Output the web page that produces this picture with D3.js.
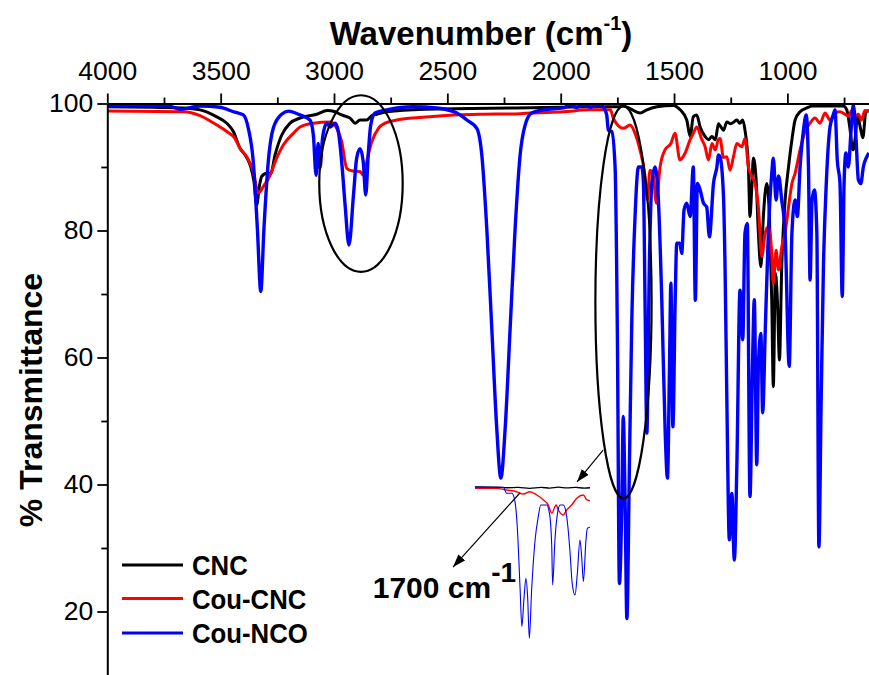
<!DOCTYPE html>
<html>
<head>
<meta charset="utf-8">
<script src="https://cdn.jsdelivr.net/npm/d3@7"></script>
<style>
  html, body { margin: 0; padding: 0; background: #fff; }
  svg { display: block; font-family: "Liberation Sans", Arial, sans-serif; }
</style>
</head>
<body>
<svg id="chart" width="869" height="675"></svg>
<script>
// ---- axis ticks ----
const majorTicksX = [4000, 3500, 3000, 2500, 2000, 1500, 1000];
const minorTicksX = [3750, 3250, 2750, 2250, 1750, 1250, 750];
const majorTicksY = [20, 40, 60, 80, 100];
const minorTicksY = [30, 50, 70, 90];

// ---- series: [wavenumber (cm-1), % transmittance] ----
const seriesNames = ["CNC", "Cou-CNC", "Cou-NCO"];

const cnc = [
  [4000,99.5],[3800,99.4],[3665,99.3],[3591,99.0],[3517,97.9],[3473,96.9],[3444,95.6],[3414,92.9],
  [3392,91.9],[3370,90.3],[3353,87.7],[3341,84.0],[3329,87.0],[3319,88.5],[3297,89.0],[3279,89.0],
  [3260,91.9],[3231,95.0],[3194,96.9],[3150,97.7],[3076,98.3],[3030,98.9],[2995,98.7],[2972,98.3],
  [2950,98.0],[2929,97.7],[2907,96.9],[2885,97.4],[2856,97.4],[2833,98.1],[2811,98.3],[2767,98.7],
  [2600,99.1],[2400,99.2],[2200,99.3],[2000,99.4],[1872,99.5],[1750,99.5],[1724,99.6],[1694,99.2],
  [1650,98.5],[1620,99.0],[1576,99.5],[1503,99.7],[1473,99.0],[1444,97.4],[1429,94.8],[1415,97.9],
  [1400,98.2],[1385,96.3],[1363,94.8],[1348,94.3],[1333,94.8],[1318,94.3],[1304,96.8],[1297,96.5],
  [1282,95.8],[1267,97.1],[1250,96.8],[1236,97.1],[1223,97.4],[1210,96.9],[1197,97.4],[1187,95.8],
  [1172,90.0],[1165,82.2],[1158,86.0],[1150,91.4],[1138,88.0],[1128,79.6],[1117,74.3],[1106,82.2],
  [1091,87.4],[1079,82.0],[1069,69.0],[1062,55.4],[1053,73.3],[1044,69.0],[1035,59.6],[1025,74.3],
  [1010,84.8],[995,90.0],[980,94.3],[966,97.4],[944,98.7],[914,99.3],[890,99.6],[753,99.6],
  [738,99.0],[725,96.3],[711,92.7],[700,94.8],[691,98.0],[676,95.8],[667,94.6],[654,98.7],[640,98.9]
];

const couCnc = [
  [4000,98.8],[3665,98.7],[3591,98.1],[3517,96.6],[3473,95.6],[3437,94.5],[3414,92.9],[3385,91.6],
  [3356,89.3],[3334,85.9],[3312,86.9],[3282,88.7],[3253,91.4],[3223,93.5],[3179,95.3],[3150,96.3],
  [3091,96.9],[3017,97.1],[2988,96.1],[2966,94.0],[2944,89.8],[2922,89.4],[2885,89.3],[2871,88.7],
  [2849,91.9],[2833,94.0],[2804,96.1],[2775,96.9],[2723,97.4],[2576,97.9],[2473,98.2],[2356,98.3],
  [2179,98.4],[2135,98.5],[1988,98.7],[1872,99.0],[1781,99.0],[1767,97.6],[1724,96.1],[1694,96.6],
  [1672,95.3],[1650,92.7],[1628,88.5],[1618,84.8],[1606,89.5],[1591,88.5],[1578,84.3],[1562,89.9],
  [1540,92.7],[1514,93.7],[1496,95.3],[1474,91.1],[1451,92.2],[1429,94.3],[1415,95.3],[1400,96.3],
  [1378,94.4],[1363,93.2],[1348,91.1],[1333,93.7],[1318,92.7],[1304,94.4],[1297,94.5],[1282,91.5],
  [1267,91.6],[1253,89.5],[1238,91.6],[1223,93.7],[1201,93.2],[1187,94.5],[1172,90.0],[1157,88.5],
  [1143,87.4],[1128,83.7],[1113,75.9],[1098,79.6],[1084,80.6],[1069,76.4],[1062,71.7],[1050,76.9],
  [1039,73.8],[1025,77.4],[1010,79.6],[995,83.7],[980,87.4],[966,89.0],[944,92.7],[922,95.6],
  [900,96.9],[878,97.7],[856,96.9],[834,98.5],[812,97.4],[790,98.5],[768,98.7],[746,98.3],
  [731,98.0],[716,98.9],[698,98.0],[687,98.3],[673,97.4],[658,98.9],[640,98.7]
];

const couNco = [
  [4000,99.7],[3738,99.7],[3679,99.1],[3591,99.6],[3503,99.4],[3444,98.7],[3400,98.2],[3378,96.1],
  [3356,90.8],[3338,80.3],[3323,70.4],[3309,80.3],[3290,90.8],[3268,96.1],[3231,98.3],[3201,98.8],
  [3150,98.2],[3106,97.4],[3091,95.0],[3079,88.7],[3070,93.7],[3062,89.8],[3050,94.7],[3032,96.9],
  [3017,96.3],[2995,96.9],[2981,95.6],[2966,90.8],[2951,84.0],[2934,77.7],[2914,85.6],[2900,91.4],
  [2885,92.9],[2871,90.8],[2860,85.6],[2849,91.9],[2838,96.6],[2819,98.5],[2767,99.0],[2650,99.5],
  [2547,99.3],[2458,98.5],[2414,97.4],[2370,96.1],[2348,91.9],[2326,80.3],[2304,64.6],[2282,48.8],
  [2264,41.0],[2245,48.8],[2223,64.6],[2201,80.3],[2179,91.9],[2157,96.6],[2128,98.5],[2076,99.0],
  [1988,99.3],[1959,99.8],[1930,99.4],[1900,99.8],[1870,99.4],[1841,99.7],[1826,99.8],[1810,99.3],
  [1797,98.2],[1790,95.8],[1775,95.6],[1760,90.0],[1750,63.8],[1741,24.4],[1730,37.6],[1724,50.7],
  [1716,37.6],[1708,18.9],[1697,42.8],[1686,66.4],[1672,82.2],[1657,90.0],[1642,90.0],[1635,87.4],
  [1628,69.0],[1620,48.1],[1609,74.3],[1598,87.4],[1584,90.0],[1569,84.8],[1554,69.0],[1539,48.1],
  [1529,41.0],[1520,58.6],[1514,71.7],[1505,49.1],[1495,69.0],[1488,78.0],[1475,78.0],[1466,76.4],
  [1456,83.2],[1444,84.3],[1429,82.2],[1415,90.0],[1406,69.0],[1397,87.4],[1385,86.4],[1370,84.3],
  [1356,83.7],[1344,79.0],[1326,87.4],[1311,90.0],[1304,91.9],[1297,91.6],[1282,85.5],[1275,74.3],
  [1267,53.3],[1256,31.3],[1245,38.6],[1234,28.1],[1223,42.8],[1209,70.6],[1197,62.8],[1187,79.6],
  [1177,81.1],[1165,38.1],[1154,58.6],[1146,69.1],[1135,43.1],[1128,58.6],[1117,63.8],[1109,51.3],
  [1098,63.8],[1084,79.6],[1069,89.0],[1062,91.4],[1050,84.8],[1039,88.6],[1025,84.8],[1010,79.6],
  [992,58.6],[980,79.6],[966,84.8],[956,82.2],[944,90.0],[929,95.8],[917,98.2],[907,90.0],
  [900,72.2],[891,84.8],[881,86.4],[870,79.6],[861,30.2],[851,53.3],[841,74.3],[829,86.9],
  [812,96.3],[800,97.9],[790,99.0],[780,91.1],[768,87.4],[758,69.6],[750,87.4],[742,92.2],
  [731,90.0],[720,95.3],[709,99.8],[697,94.3],[687,88.0],[676,87.4],[665,90.0],[650,91.6],[640,92.2]
];

// ---- inset: expanded view of the 1850-1450 cm-1 carbonyl region ----
const insetCnc = [
  [1850,100],[1780,99.9],[1740,99.6],[1700,99.8],[1660,99.3],[1620,99.8],[1590,99.4],
  [1560,99.9],[1530,99.5],[1500,99.8],[1470,99.4],[1450,99.6]
];
const insetCouCnc = [
  [1850,99.3],[1775,99.3],[1740,98.4],[1705,97.5],[1682,96.3],[1659,97.5],[1635,95.8],
  [1612,93.2],[1595,90.5],[1583,86.2],[1568,90.5],[1560,87.9],[1543,85.3],[1531,87.9],
  [1514,90.5],[1496,94.1],[1473,95.8],[1461,93.2],[1450,92.8]
];
const insetCouNco = [
  [1850,100],[1751,99.8],[1740,96.7],[1722,96.7],[1711,92.3],[1703,79.1],[1693,45.8],
  [1687,26.5],[1680,40.5],[1673,51.9],[1667,42.3],[1661,20.4],[1653,45.8],[1641,72.1],
  [1630,84.4],[1621,90.5],[1601,90.5],[1591,86.1],[1583,68.6],[1580,48.4],[1572,72.1],
  [1563,86.1],[1554,90.5],[1543,90.5],[1531,84.4],[1520,66.8],[1512,49.3],[1502,43.2],
  [1494,54.6],[1485,72.1],[1479,63.3],[1473,50.2],[1464,72.1],[1459,78.3],[1450,78.8]
];

// ---- annotations, in data units ----
const regionMarks = [
  { cx: 2881, cy: 87.4, rx: 184, ry: 13.9 },
  { cx: 1723, cy: 68.7, rx: 124, ry: 30.9 }
];
const pointers = [
  { from: [1813, 45.4], to: [1928, 40.4] },
  { from: [2179, 38.7], to: [2475, 27.0] }
];

const colors = ["#000000", "#ff0000", "#0000ff"];
const widths = [3, 3, 3.4];

// ---- scales ----
const svg = d3.select("#chart");
const x = d3.scaleLinear().domain([4000, 640]).range([107.3, 869]);
const y = d3.scaleLinear().domain([100, 10]).range([103.5, 675]);
const xIn = d3.scaleLinear().domain([1850, 1450]).range([475, 590]);
const yIn = d3.scaleLinear().domain([100, 20]).range([487, 639]);

const defs = svg.append("defs");
defs.append("clipPath").attr("id", "plotClip")
  .append("rect").attr("x", x(4000)).attr("y", 96)
  .attr("width", x(640) - x(4000)).attr("height", 675 - 96);
defs.append("marker").attr("id", "arrowHead")
  .attr("viewBox", "0 0 13 9").attr("refX", 13).attr("refY", 4.5)
  .attr("markerWidth", 13).attr("markerHeight", 9)
  .attr("markerUnits", "userSpaceOnUse").attr("orient", "auto")
  .append("path").attr("d", "M0,0 L13,4.5 L0,9 Z").attr("fill", "#000");

// ---- spectra ----
const line = d3.line().x(d => x(d[0])).y(d => y(d[1])).curve(d3.curveMonotoneX);
const plot = svg.append("g").attr("clip-path", "url(#plotClip)");
[cnc, couCnc, couNco].forEach((s, i) => {
  plot.append("path").datum(s)
    .attr("d", line).attr("fill", "none")
    .attr("stroke", colors[i]).attr("stroke-width", widths[i])
    .attr("stroke-linejoin", "round");
});

// ---- region ellipses ----
svg.append("g").selectAll("ellipse").data(regionMarks).join("ellipse")
  .attr("cx", d => x(d.cx)).attr("cy", d => y(d.cy))
  .attr("rx", d => Math.abs(x(d.cx + d.rx) - x(d.cx)))
  .attr("ry", d => Math.abs(y(d.cy + d.ry) - y(d.cy)))
  .attr("fill", "none").attr("stroke", "#000").attr("stroke-width", 2.2);

// ---- inset ----
const insetLine = d3.line().x(d => xIn(d[0])).y(d => yIn(d[1])).curve(d3.curveMonotoneX);
const insetWidths = [1.3, 1.4, 1.1];
[insetCnc, insetCouCnc, insetCouNco].forEach((s, i) => {
  svg.append("path").datum(s)
    .attr("d", insetLine).attr("fill", "none")
    .attr("stroke", colors[i]).attr("stroke-width", insetWidths[i]);
});

// ---- pointer arrows ----
svg.append("g").selectAll("line").data(pointers).join("line")
  .attr("x1", d => x(d.from[0])).attr("y1", d => y(d.from[1]))
  .attr("x2", d => x(d.to[0])).attr("y2", d => y(d.to[1]))
  .attr("stroke", "#000").attr("stroke-width", 1.2)
  .attr("marker-end", "url(#arrowHead)");

// ---- axes ----
function styleAxis(g, fontSize) {
  g.attr("font-family", null).attr("font-size", null);
  g.selectAll("path.domain").attr("stroke", "#000").attr("stroke-width", 2);
  g.selectAll(".tick line").attr("stroke", "#000").attr("stroke-width", 1.8);
  g.selectAll(".tick text").attr("fill", "#000")
    .style("font-family", '"Liberation Sans", Arial, sans-serif')
    .style("font-size", fontSize + "px");
}

const gTop = svg.append("g").attr("transform", `translate(0,${y(100)})`);
gTop.call(d3.axisTop(x).tickValues(majorTicksX).tickSize(10).tickSizeOuter(0)
  .tickPadding(14).tickFormat(d3.format("d")));
styleAxis(gTop, 26.5);
const gTopMinor = svg.append("g").attr("transform", `translate(0,${y(100)})`);
gTopMinor.call(d3.axisTop(x).tickValues(minorTicksX).tickSize(6).tickFormat(""));
gTopMinor.select("path.domain").remove();
styleAxis(gTopMinor, 26.5);

const gLeft = svg.append("g").attr("transform", `translate(${x(4000)},0)`);
gLeft.call(d3.axisLeft(y).tickValues(majorTicksY).tickSize(10).tickSizeOuter(0)
  .tickPadding(4).tickFormat(d3.format("d")));
styleAxis(gLeft, 26.5);
const gLeftMinor = svg.append("g").attr("transform", `translate(${x(4000)},0)`);
gLeftMinor.call(d3.axisLeft(y).tickValues(minorTicksY).tickSize(6).tickFormat(""));
gLeftMinor.select("path.domain").remove();
styleAxis(gLeftMinor, 26.5);

// ---- axis titles ----
const title = svg.append("text").attr("x", 481).attr("y", 45)
  .attr("text-anchor", "middle").attr("font-weight", "bold").attr("font-size", 33);
title.append("tspan").text("Wavenumber (cm");
title.append("tspan").attr("dy", -15).attr("font-size", 20).text("-1");
title.append("tspan").attr("dy", 15).text(")");

svg.append("text").attr("transform", "translate(42,400) rotate(-90)")
  .attr("text-anchor", "middle").attr("font-weight", "bold").attr("font-size", 32)
  .text("% Transmittance");

// ---- 1700 cm-1 label ----
const lbl = svg.append("text").attr("x", x(2829)).attr("y", y(22.1))
  .attr("font-weight", "bold").attr("font-size", 30);
lbl.append("tspan").text("1700 cm");
lbl.append("tspan").attr("dy", -16.5).attr("font-size", 28).text("-1");

// ---- legend ----
const legend = svg.append("g");
const legendRows = [565, 598.5, 633];
seriesNames.forEach((name, i) => {
  legend.append("line").attr("x1", 122).attr("x2", 183)
    .attr("y1", legendRows[i]).attr("y2", legendRows[i])
    .attr("stroke", colors[i]).attr("stroke-width", 3);
  legend.append("text")
    .attr("transform", `translate(192,${legendRows[i] + 10}) scale(0.92,1)`)
    .attr("font-weight", "bold").attr("font-size", 28).text(name);
});
</script>
</body>
</html>
